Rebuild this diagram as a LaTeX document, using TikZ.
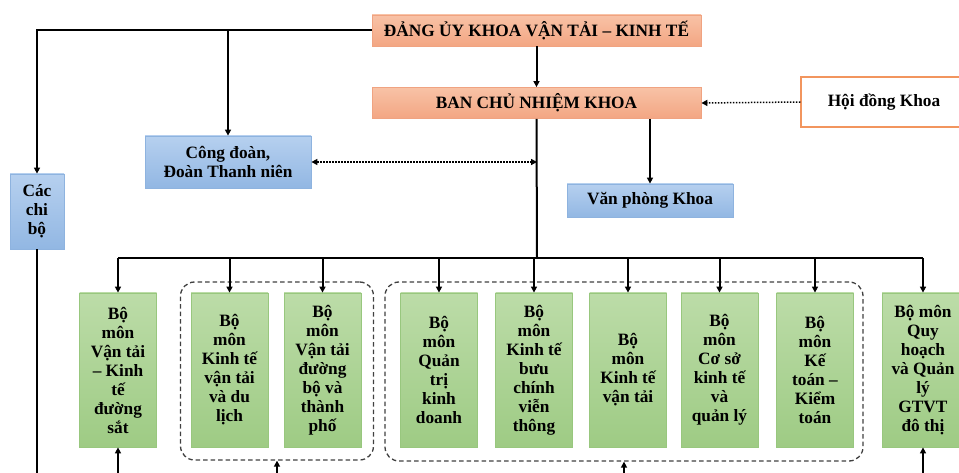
\documentclass[tikz,border=0pt]{standalone}
\usepackage{fontspec}
\setmainfont{Liberation Serif}
\usetikzlibrary{arrows.meta}
\definecolor{orT}{HTML}{F8C2A6}
\definecolor{orB}{HTML}{F3A683}
\definecolor{orD}{HTML}{F0A381}
\definecolor{blT}{HTML}{B6D0EF}
\definecolor{blB}{HTML}{92B7E3}
\definecolor{blD}{HTML}{8EB3DF}
\definecolor{grT}{HTML}{BCDCA8}
\definecolor{grB}{HTML}{9ECB84}
\definecolor{grD}{HTML}{98C77E}
\definecolor{hdD}{HTML}{F2955E}
\tikzset{
  x=1pt, y=-1pt,
  every node/.style={font=\fontsize{17.3}{19}\selectfont\bfseries, inner sep=0pt, align=center},
  orbox/.style={draw=orD, line width=0.8pt, top color=orT, bottom color=orB, minimum width=329pt, minimum height=31pt},
  blbox/.style={draw=blD, line width=0.8pt, top color=blT, bottom color=blB},
  grbox/.style={draw=grD, line width=0.8pt, top color=grT, bottom color=grB, minimum width=77pt, minimum height=154pt},
  grpbox/.style={draw=black!75, dashed, dash pattern=on 4.5pt off 3pt, line width=1.3pt, rounded corners=14pt},
  conn/.style={line width=2pt, black},
  arr/.style={conn, -{Triangle[length=6pt,width=6pt]}},
  dotarr/.style={line width=1.5pt, dash pattern=on 1.5pt off 1.5pt, black, -{Triangle[length=6pt,width=6pt]}},
  dotarrb/.style={line width=1.5pt, dash pattern=on 1.5pt off 1.5pt, black, {Triangle[length=6pt,width=6pt]}-{Triangle[length=6pt,width=6pt]}},
}
\begin{document}
\begin{tikzpicture}
\useasboundingbox (0,0) rectangle (959,473);
% top
\node[orbox] (dang) at (536.5,30.5) {ĐẢNG ỦY KHOA VẬN TẢI – KINH TẾ};
\node[orbox] (ban) at (536.5,103) {BAN CHỦ NHIỆM KHOA};
\node[draw=hdD, line width=1.1pt, fill=white, minimum width=166pt, minimum height=50pt] (hd) at (884,102) {Hội đồng Khoa};
\node[blbox, minimum width=166pt, minimum height=33pt] (vp) at (650,200.5) {Văn phòng Khoa};
\node[blbox, minimum width=166pt, minimum height=52pt] (cd) at (228,162) {Công đoàn,\\Đoàn Thanh niên};
\node[blbox, minimum width=54pt, minimum height=75pt] (cb) at (37,211.5) {Các\\chi\\bộ};
% groups
\node[grpbox, minimum width=193pt, minimum height=178pt] (g1) at (277,371) {};
\node[grpbox, minimum width=478pt, minimum height=179pt] (g2) at (624,371.5) {};
% department boxes
\node[grbox] (b1) at (118,370) {Bộ\\môn\\Vận tải\\– Kinh\\tế\\đường\\sắt};
\node[grbox] (b2) at (229.5,370) {Bộ\\môn\\Kinh tế\\vận tải\\và du\\lịch};
\node[grbox] (b3) at (322.5,370) {Bộ\\môn\\Vận tải\\đường\\bộ và\\thành\\phố};
\node[grbox] (b4) at (439,370) {Bộ\\môn\\Quản\\trị\\kinh\\doanh};
\node[grbox] (b5) at (534,370) {Bộ\\môn\\Kinh tế\\bưu\\chính\\viễn\\thông};
\node[grbox] (b6) at (628,370) {Bộ\\môn\\Kinh tế\\vận tải};
\node[grbox] (b7) at (719.5,370) {Bộ\\môn\\Cơ sở\\kinh tế\\và\\quản lý};
\node[grbox] (b8) at (815,370) {Bộ\\môn\\Kế\\toán –\\Kiểm\\toán};
\node[grbox, minimum width=82pt] (b9) at (923,370) {Bộ môn\\Quy\\hoạch\\và Quản\\lý\\GTVT\\đô thị};
% coordinates
\coordinate (bus) at (537,258);
\coordinate (low) at (0,485);
% connectors
\draw[arr] (dang) -- (ban);
\draw[arr] (dang.west) -| (cb.north);
\draw[arr] (dang.west -| cd.north) -- (cd.north);
\draw[dotarr] (hd.west) -- (ban.east);
\draw[arr] (ban.south -| vp.north) -- (vp.north);
\draw[conn] (ban.south) -- (bus);
\draw[dotarrb] (cd.east) -- (cd.east -| bus);
\draw[conn] (bus -| b1.north) -- (bus -| b9.north);
\foreach \b in {b1,b2,b3,b4,b5,b6,b7,b8,b9}{
  \draw[arr] (bus -| \b.north) -- (\b.north);
}
\draw[conn] (cb.south) -- (cb.south |- low);
\draw[arr] (b1.south |- low) -- (b1.south);
\draw[arr] (g1.south |- low) -- (g1.south);
\draw[arr] (g2.south |- low) -- (g2.south);
\draw[arr] (b9.south |- low) -- (b9.south);
\end{tikzpicture}
\end{document}
